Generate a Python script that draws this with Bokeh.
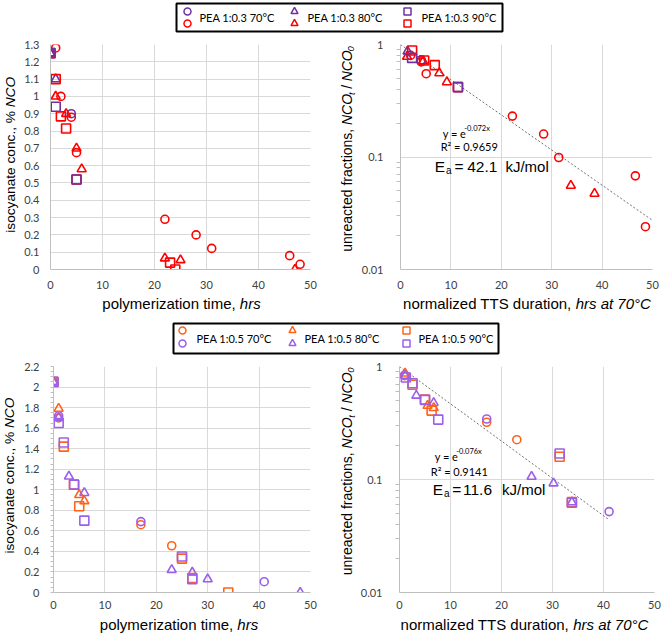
import math
from bokeh.plotting import figure
from bokeh.models import Label, FixedTicker, CustomJSTickFormatter, Range1d
from bokeh.layouts import column, row
from bokeh.embed import file_html
from bokeh.resources import INLINE
from bokeh.core.properties import value

# ---------------- data ----------------
# PEA 1:0.3 : isocyanate conc. (% NCO) vs polymerization time (h)
# series "a" = purple markers, series "b" = red markers
a03_70_t = [0, 4]
a03_70_c = [1.25, 0.90]
b03_70_t = [0, 1, 2, 4, 5, 22, 28, 31, 46, 48]
b03_70_c = [1.25, 1.28, 1.00, 0.88, 0.675, 0.29, 0.20, 0.122, 0.08, 0.03]
a03_80_t = [0, 1]
a03_80_c = [1.25, 1.10]
b03_80_t = [0, 1, 3, 5, 6, 22, 25, 47]
b03_80_c = [1.25, 1.00, 0.90, 0.70, 0.58, 0.065, 0.055, 0.0]
a03_90_t = [0, 1, 5]
a03_90_c = [1.25, 0.94, 0.52]
b03_90_t = [0, 1, 2, 3, 5, 23, 24]
b03_90_c = [1.25, 1.10, 0.885, 0.815, 0.52, 0.04, 0.0]

# PEA 1:0.3 : unreacted fraction vs normalized TTS duration (h at 70 C)
a03_70_x = [4.1]
a03_70_f = [0.73]
b03_70_x = [2.0, 4.1, 5.1, 22.2, 28.4, 31.4, 46.6, 48.6]
b03_70_f = [0.80, 0.70, 0.55, 0.231, 0.160, 0.099, 0.068, 0.024]
a03_80_x = [1.4]
a03_80_f = [0.87]
b03_80_x = [1.3, 4.5, 7.7, 9.2, 33.8, 38.5]
b03_80_f = [0.78, 0.71, 0.557, 0.463, 0.0557, 0.0473]
a03_90_x = [2.3, 11.4]
a03_90_f = [0.76, 0.418]
b03_90_x = [2.3, 4.7, 6.8, 11.4]
b03_90_f = [0.885, 0.72, 0.655, 0.418]
trend03_k = 0.072
trend03_x = [0, 50]

# PEA 1:0.5 : series "a" = orange markers, series "b" = violet markers
a05_70_t = [0, 1, 17, 23]
a05_70_c = [2.05, 1.70, 0.66, 0.455]
b05_70_t = [0, 1, 17, 41]
b05_70_c = [2.05, 1.72, 0.69, 0.105]
a05_80_t = [0, 1, 5, 6]
a05_80_c = [2.05, 1.79, 0.95, 0.89]
b05_80_t = [0, 1, 3, 6, 23, 27, 30, 48]
b05_80_c = [2.05, 1.70, 1.13, 0.97, 0.22, 0.195, 0.13, 0.0]
a05_90_t = [0, 2, 4, 5, 25, 27, 34]
a05_90_c = [2.05, 1.42, 1.05, 0.84, 0.33, 0.14, 0.0]
b05_90_t = [0, 1, 2, 4, 6, 25, 27]
b05_90_c = [2.05, 1.65, 1.46, 1.05, 0.70, 0.35, 0.13]

a05_70_x = [1.0, 17.1, 23.0]
a05_70_f = [0.83, 0.321, 0.225]
b05_70_x = [1.0, 17.1, 41.1]
b05_70_f = [0.84, 0.343, 0.052]
a05_80_x = [1.1, 5.5, 6.7]
a05_80_f = [0.87, 0.45, 0.43]
b05_80_x = [1.1, 3.3, 6.7, 25.9, 30.2, 33.8]
b05_80_f = [0.83, 0.553, 0.477, 0.106, 0.0925, 0.063]
a05_90_x = [2.55, 5.0, 6.3, 31.4, 33.8]
a05_90_f = [0.69, 0.51, 0.407, 0.159, 0.063]
b05_90_x = [1.25, 2.55, 5.0, 7.6, 31.4, 33.8]
b05_90_f = [0.80, 0.71, 0.507, 0.339, 0.17, 0.0623]
trend05_k = 0.076
trend05_x = [0, 41]

legend03 = ["PEA 1:0.3 70°C", "PEA 1:0.3 80°C", "PEA 1:0.3 90°C"]
legend05 = ["PEA 1:0.5 70°C", "PEA 1:0.5 80°C", "PEA 1:0.5 90°C"]
x_ticks = [0, 10, 20, 30, 40, 50]
y03_ticks = [0, 0.1, 0.2, 0.3, 0.4, 0.5, 0.6, 0.7, 0.8, 0.9, 1.0, 1.1, 1.2, 1.3]
y05_ticks = [0, 0.2, 0.4, 0.6, 0.8, 1.0, 1.2, 1.4, 1.6, 1.8, 2.0, 2.2]
log_ticks = [0.01, 0.1, 1]

# ---------------- styles ----------------
PURPLE = "#7030A0"
RED = "#FF0000"
ORANGE = "#FF6319"
VIOLET = "#9C5FEA"
GRID = "#d9d9d9"
AXIS = "#bfbfbf"
TICKC = "#404040"
TICKF = "Lato"
TITLEF = "Liberation Sans"
KH = 1.0    # width factor of horizontal text vs. nominal Arial metrics
KV = 1.12   # width factor of rotated text

AW = {' ': 278, ',': 278, '.': 278, '%': 889, '/': 278, '°': 400, '=': 584,
      'a': 556, 'c': 500, 'd': 556, 'e': 556, 'f': 278, 'h': 556, 'i': 222,
      'k': 500, 'l': 222, 'm': 833, 'n': 556, 'o': 556, 'p': 556, 'r': 333,
      's': 500, 't': 278, 'u': 556, 'y': 500, 'z': 500,
      'C': 722, 'E': 667, 'J': 500, 'N': 722, 'O': 778, 'S': 667, 'T': 611}


def tw(s, size, k):
    return k * sum(AW.get(ch, 556) for ch in s) * size / 1000.0


# page layout (pixels)
ROW1_TOP, ROW1_H = 33, 262
XT1_H = 20
LEG2_H = 43
ROW2_TOP, ROW2_H = 358, 256
XT2_H = 19
YT_L1, YT_R1 = 21, 28
YT_L2, YT_R2 = 21, 27

# frame geometry in page pixels
G1 = dict(l=50, r=310, t=44, b=269, x0=0, x1=50, y0=0, y1=1.3, log=False)
G2 = dict(l=395, r=652, t=44, b=269, x0=0, x1=50, y0=0.01, y1=1, log=True)
G3 = dict(l=49, r=310, t=366, b=592, x0=0, x1=50, y0=0, y1=2.2, log=False)
G4 = dict(l=393, r=654, t=366, b=592, x0=0, x1=50, y0=0.01, y1=1, log=True)


def dx(g, px):
    return g['x0'] + (px - g['l']) / (g['r'] - g['l']) * (g['x1'] - g['x0'])


def dy(g, py):
    frac = (g['b'] - py) / (g['b'] - g['t'])
    if g['log']:
        l0, l1 = math.log10(g['y0']), math.log10(g['y1'])
        return 10 ** (l0 + frac * (l1 - l0))
    return g['y0'] + frac * (g['y1'] - g['y0'])


def lab(p, g, px, py, text, size, font=TITLEF, style="normal"):
    p.add_layout(Label(x=dx(g, px), y=dy(g, py), text=text, text_font=font,
                       text_font_size=f"{size}px", text_font_style=style,
                       text_color="#000000", text_align="left", text_baseline="middle"))


def strip(width, height):
    p = figure(width=width, height=height, toolbar_location=None, output_backend="svg",
               x_range=Range1d(0, width), y_range=Range1d(0, height),
               x_axis_location=None, y_axis_location=None,
               min_border=0, min_border_left=0, min_border_right=0,
               min_border_top=0, min_border_bottom=0)
    p.grid.visible = False
    p.outline_line_color = None
    return p


def compose(fig, ox, obot, pieces, cx, cy, vertical=False):
    """Write a mixed-style text in a strip figure; cx, cy in page pixels.
    The first (long) piece is anchored at its end so it never runs into the next piece."""
    k = KV if vertical else KH
    total = sum(tw(t, s, k) for t, s, _, _ in pieces)
    pos = cy + total / 2 if vertical else cx - total / 2
    for i, (text, size, style, off) in enumerate(pieces):
        stripped = text.lstrip(' ')
        lead = tw(text[:len(text) - len(stripped)], size, k)
        body = stripped.rstrip(' ')
        align = "left"
        start = pos - lead if vertical else pos + lead
        if i == 0 and len(pieces) > 1:
            align = "right"
            wb = tw(body, size, k)
            start = start - wb if vertical else start + wb
        if body:
            if vertical:
                sx, sy, ang = cx + off, start, math.pi / 2
            else:
                sx, sy, ang = start, cy + off, 0.0
            fig.text(x=[sx - ox], y=[obot - sy], text=[body], angle=ang,
                     text_font=value(TITLEF), text_font_size=f"{size}px",
                     text_font_style=value(style), text_color="#000000",
                     text_align=align, text_baseline="middle")
        w = tw(text, size, k)
        pos = pos - w if vertical else pos + w


def make_fig(g, fx, fy, width, height, y_log):
    kw = dict(width=width, height=height, toolbar_location=None, output_backend="svg",
              x_range=Range1d(g['x0'], g['x1']), y_range=Range1d(g['y0'], g['y1']),
              min_border_left=g['l'] - fx,
              min_border_right=fx + width - g['r'],
              min_border_top=g['t'] - fy,
              min_border_bottom=fy + height - g['b'])
    if y_log:
        kw['y_axis_type'] = "log"
    p = figure(**kw)
    p.outline_line_color = None
    p.background_fill_color = "white"
    p.border_fill_color = "white"
    p.xaxis.ticker = FixedTicker(ticks=x_ticks)
    for ax in (p.xaxis, p.yaxis):
        ax.axis_line_color = AXIS
        ax.major_tick_line_color = None
        ax.major_tick_out = 0
        ax.major_tick_in = 0
        ax.minor_tick_line_color = None
        ax.minor_tick_out = 0
        ax.minor_tick_in = 0
        ax.major_label_text_font = TICKF
        ax.major_label_text_font_size = "11px"
        ax.major_label_text_color = TICKC
    p.yaxis.major_label_standoff = 11
    p.xgrid.grid_line_color = GRID
    p.ygrid.grid_line_color = GRID
    p.xgrid.bounds = (g['x0'], g['x1'] * 1.0001)
    p.ygrid.bounds = (g['y0'], g['y1'] * 1.0001)
    p.yaxis.formatter = CustomJSTickFormatter(code="return (Math.round(tick*100)/100).toString();")
    return p


def pts(p, x, y, marker, color, size):
    p.scatter(x, y, marker=marker, size=size, line_color=color, fill_color=None, line_width=1.6)


minor_log = [m * 10 ** e for e in (-2, -1) for m in range(2, 10)]

# ---------- top-left ----------
p1 = make_fig(G1, YT_L1, ROW1_TOP, 330 - YT_L1, ROW1_H, False)
p1.yaxis.ticker = FixedTicker(ticks=y03_ticks)
p1.xaxis.major_label_standoff = 11
for (t, c, col) in [(b03_70_t, b03_70_c, RED), (a03_70_t, a03_70_c, PURPLE)]:
    pts(p1, t, c, "circle", col, 8)
for (t, c, col) in [(b03_80_t, b03_80_c, RED), (a03_80_t, a03_80_c, PURPLE)]:
    pts(p1, t, c, "triangle", col, 9)
for (t, c, col) in [(b03_90_t, b03_90_c, RED), (a03_90_t, a03_90_c, PURPLE)]:
    pts(p1, t, c, "square", col, 9)

# ---------- top-right ----------
p2 = make_fig(G2, 330 + YT_R1, ROW1_TOP, 331 - YT_R1, ROW1_H, True)
p2.yaxis.ticker = FixedTicker(ticks=log_ticks, minor_ticks=minor_log)
p2.yaxis.minor_tick_line_color = AXIS
p2.yaxis.minor_tick_out = 4
p2.yaxis.major_label_standoff = 13
p2.xaxis.major_label_standoff = 11
p2.line(trend03_x, [math.exp(-trend03_k * x) for x in trend03_x], line_color="#707070",
        line_dash="2 2", line_width=1)
for (t, c, col) in [(b03_70_x, b03_70_f, RED), (a03_70_x, a03_70_f, PURPLE)]:
    pts(p2, t, c, "circle", col, 8)
for (t, c, col) in [(b03_80_x, b03_80_f, RED), (a03_80_x, a03_80_f, PURPLE)]:
    pts(p2, t, c, "triangle", col, 9)
for (t, c, col) in [(b03_90_x, b03_90_f, RED), (a03_90_x, a03_90_f, PURPLE)]:
    pts(p2, t, c, "square", col, 9)
lab(p2, G2, 438, 133, "y = e", 11, font=TICKF)
lab(p2, G2, 460, 128, "-0.072x", 7.5, font=TICKF)
lab(p2, G2, 436, 146, "R² = 0.9659", 11, font=TICKF)
lab(p2, G2, 430, 166, "E", 15.5)
lab(p2, G2, 441.5, 170, "a", 10)
lab(p2, G2, 450, 166, "=", 15.5)
lab(p2, G2, 463, 166, "42.1", 15.5)
lab(p2, G2, 502, 166, "kJ/mol", 15)

# ---------- bottom-left ----------
p3 = make_fig(G3, YT_L2, ROW2_TOP, 330 - YT_L2, ROW2_H, False)
p3.yaxis.ticker = FixedTicker(ticks=y05_ticks, minor_ticks=[i * 0.05 for i in range(45)])
p3.yaxis.minor_tick_line_color = AXIS
p3.yaxis.minor_tick_out = 3
p3.xaxis.major_label_standoff = 8
for (t, c, col) in [(a05_70_t, a05_70_c, ORANGE), (b05_70_t, b05_70_c, VIOLET)]:
    pts(p3, t, c, "circle", col, 8)
for (t, c, col) in [(a05_80_t, a05_80_c, ORANGE), (b05_80_t, b05_80_c, VIOLET)]:
    pts(p3, t, c, "triangle", col, 9)
for (t, c, col) in [(a05_90_t, a05_90_c, ORANGE), (b05_90_t, b05_90_c, VIOLET)]:
    pts(p3, t, c, "square", col, 9)

# ---------- bottom-right ----------
p4 = make_fig(G4, 330 + YT_R2, ROW2_TOP, 331 - YT_R2, ROW2_H, True)
p4.yaxis.ticker = FixedTicker(ticks=log_ticks, minor_ticks=minor_log)
p4.yaxis.minor_tick_line_color = AXIS
p4.yaxis.minor_tick_out = 4
p4.yaxis.major_label_standoff = 13
p4.xaxis.major_label_standoff = 8
p4.line(trend05_x, [math.exp(-trend05_k * x) for x in trend05_x], line_color="#707070",
        line_dash="2 2", line_width=1)
for (t, c, col) in [(a05_70_x, a05_70_f, ORANGE), (b05_70_x, b05_70_f, VIOLET)]:
    pts(p4, t, c, "circle", col, 8)
for (t, c, col) in [(a05_80_x, a05_80_f, ORANGE), (b05_80_x, b05_80_f, VIOLET)]:
    pts(p4, t, c, "triangle", col, 9)
for (t, c, col) in [(a05_90_x, a05_90_f, ORANGE), (b05_90_x, b05_90_f, VIOLET)]:
    pts(p4, t, c, "square", col, 9)
lab(p4, G4, 429, 456, "y = e", 11, font=TICKF)
lab(p4, G4, 451, 451, "-0.076x", 7.5, font=TICKF)
lab(p4, G4, 425, 471, "R² = 0.9141", 11, font=TICKF)
lab(p4, G4, 427, 489, "E", 15.5)
lab(p4, G4, 438.5, 493, "a", 10)
lab(p4, G4, 447, 489, "=", 15.5)
lab(p4, G4, 458, 489, "11.6", 15.5)
lab(p4, G4, 498, 489, "kJ/mol", 15)

# ---------- axis titles (strips) ----------
NCO_TITLE = [("isocyanate conc., % ", 13.7, "normal", 0), ("NCO", 13.7, "italic", 0)]
FRAC_TITLE = [("unreacted fractions, ", 14, "normal", 0), ("NCO", 14, "italic", 0),
              ("t", 9.5, "italic", 4.5), (" / ", 14, "normal", 0), ("NCO", 14, "italic", 0),
              ("0", 9.5, "italic", 4.5)]
TIME_TITLE = [("polymerization time, ", 15, "normal", 0), ("hrs", 15, "italic", 0)]
TTS_TITLE = [("normalized TTS duration, ", 15, "normal", 0), ("hrs at 70°C", 15, "italic", 0)]

yt1 = strip(YT_L1, ROW1_H)
compose(yt1, 0, ROW1_TOP + ROW1_H, NCO_TITLE, 10, 159.5, vertical=True)
yt2 = strip(YT_R1, ROW1_H)
compose(yt2, 330, ROW1_TOP + ROW1_H, FRAC_TITLE, 346, 152, vertical=True)
xt1 = strip(661, XT1_H)
x1_top = ROW1_TOP + ROW1_H
compose(xt1, 0, x1_top + XT1_H, TIME_TITLE, 181, 303)
compose(xt1, 0, x1_top + XT1_H, TTS_TITLE, 526.5, 303)

yt3 = strip(YT_L2, ROW2_H)
compose(yt3, 0, ROW2_TOP + ROW2_H, NCO_TITLE, 9, 481, vertical=True)
yt4 = strip(YT_R2, ROW2_H)
compose(yt4, 330, ROW2_TOP + ROW2_H, FRAC_TITLE, 346, 476, vertical=True)
xt2 = strip(661, XT2_H)
x2_top = ROW2_TOP + ROW2_H
compose(xt2, 0, x2_top + XT2_H, TIME_TITLE, 178.5, 624)
compose(xt2, 0, x2_top + XT2_H, TTS_TITLE, 524, 624)


# ---------- legends ----------
def legend_fig(height, box, mx, my_top, my_bot, tx, ty, labels, c_top, c_bot):
    p = figure(width=661, height=height, toolbar_location=None, output_backend="svg",
               x_range=Range1d(0, 661), y_range=Range1d(height, 0),
               x_axis_location=None, y_axis_location=None,
               min_border=0, min_border_left=0, min_border_right=0,
               min_border_top=0, min_border_bottom=0)
    p.grid.visible = False
    p.outline_line_color = None
    l, r, t, b = box
    p.quad(left=[l], right=[r], top=[t], bottom=[b], fill_color="white",
           line_color="#000000", line_width=2)
    for x, m in zip(mx, ["circle", "triangle", "square"]):
        p.scatter([x], [my_top], marker=m, size=7, line_color=c_top, fill_color=None, line_width=1.5)
        p.scatter([x], [my_bot], marker=m, size=7, line_color=c_bot, fill_color=None, line_width=1.5)
    p.text(x=tx, y=[ty] * len(tx), text=labels, text_font=value("Lato"), text_font_size="11px",
           text_color="#000000", text_baseline="middle", text_align="left")
    return p


leg1 = legend_fig(ROW1_TOP, (176, 502, 3, 31), [187, 294, 407], 11, 23, [199, 307, 421], 17,
                  legend03, PURPLE, RED)
leg2 = legend_fig(LEG2_H, (173, 498, 8, 38), [182, 292, 406], 15, 28, [196, 304, 418], 23,
                  legend05, ORANGE, VIOLET)

layout = column(leg1, row(yt1, p1, yt2, p2), xt1, leg2, row(yt3, p3, yt4, p4), xt2)
open("out.html", "w").write(file_html(layout, INLINE))
